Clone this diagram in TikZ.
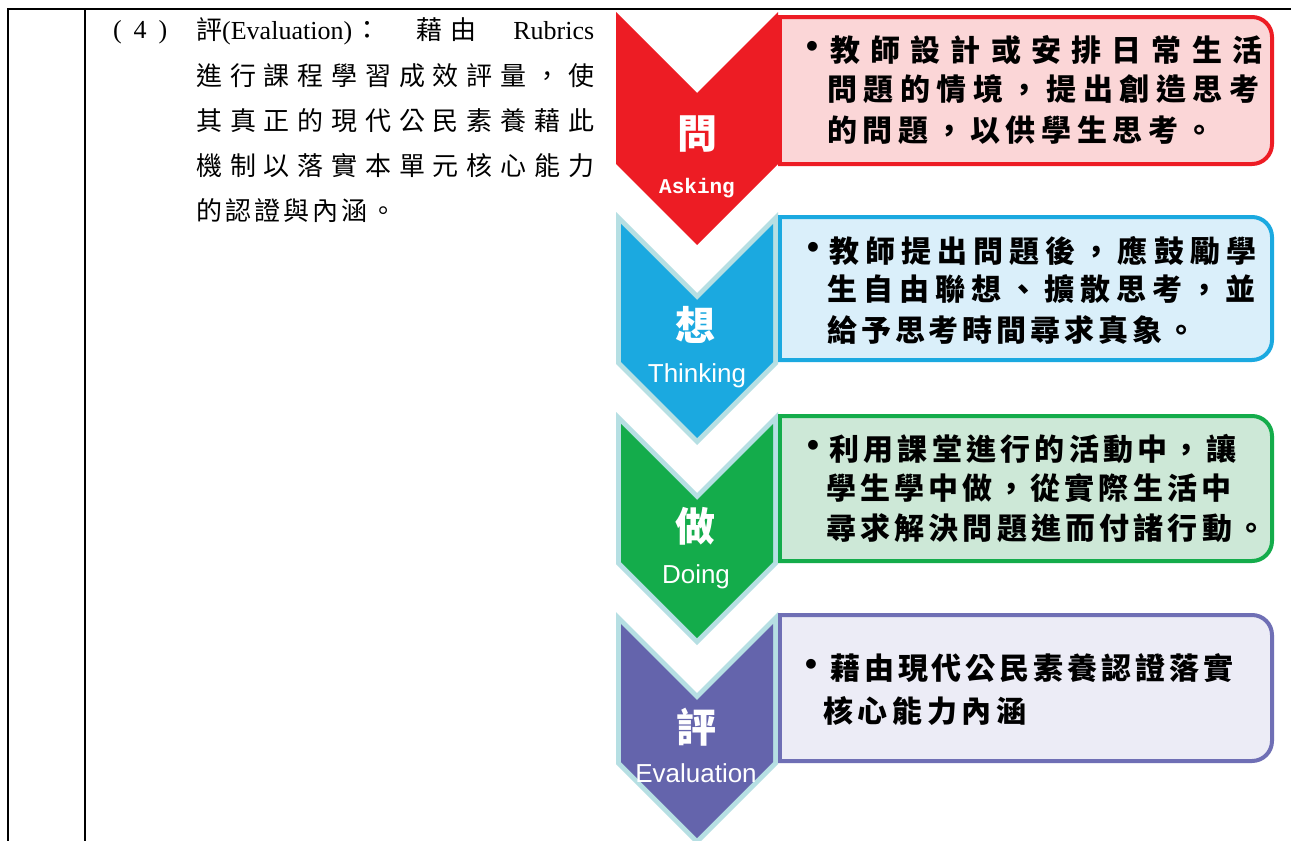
\documentclass[tikz,border=0pt]{standalone}
\usepackage{fontspec}
\setmainfont{Liberation Serif}
\newfontfamily\cjk{Noto Sans CJK TC}
\newfontfamily\sans{Liberation Sans}
\newfontfamily\mono{Liberation Mono}
\makeatletter
\def\spr#1{\spr@a#1\@nil}
\def\spr@a#1{#1\spr@b}
\def\spr@b#1{\ifx#1\@nil\else\hfil#1\expandafter\spr@b\fi}
\makeatother
\newcommand\jl[2]{\makebox[#1pt][s]{\spr{#2}}}
\definecolor{cred}{HTML}{ED1C24}
\definecolor{pinkf}{HTML}{FBD6D7}
\definecolor{cblue}{HTML}{1BA9E0}
\definecolor{bluef}{HTML}{DAEFFA}
\definecolor{cgreen}{HTML}{14AC4B}
\definecolor{greenf}{HTML}{CDE8D7}
\definecolor{cpurp}{HTML}{6464AC}
\definecolor{purpb}{HTML}{6F6FB5}
\definecolor{purpf}{HTML}{ECECF6}
\definecolor{pale}{HTML}{B6DFE3}
\newcommand\chevpale[2]{%
 \fill[pale] (616,#1) -- (697,#1+81) -- (778,#1) -- (778,#1+152) -- (697,#1+233) -- (616,#1+152) -- cycle;
 \fill[#2] (621,#1+12) -- (697,#1+88) -- (773,#1+12) -- (773,#1+150) -- (697,#1+226) -- (621,#1+150) -- cycle;}
\newcommand\tbox[4]{%
 \begin{scope}
 \clip (778,0) rectangle (1291,841);
 \draw[line width=4pt,draw=#3,fill=#4,rounded corners=20pt] (740,#1) rectangle (1272,#2);
 \end{scope}
 \draw[line width=4pt,#3] (780,#1-2) -- (780,#2+2);}
\begin{document}
\begin{tikzpicture}[x=1pt,y=-1pt,
  boxtxt/.style={anchor=west,inner sep=0pt,font=\cjk\bfseries\fontsize{30}{30}\selectfont},
  bul/.style={inner sep=0pt,font=\sans\bfseries\fontsize{34}{34}\selectfont},
  bigch/.style={inner sep=0pt,text=white,font=\cjk\bfseries\fontsize{40}{40}\selectfont},
  engl/.style={anchor=base,inner sep=0pt,text=white,font=\sans\fontsize{26}{26}\selectfont},
  lefttxt/.style={anchor=west,inner sep=0pt,font=\cjk\fontsize{26}{26}\selectfont},
  tline/.style={line width=1.6pt,black}]
\useasboundingbox (0,0) rectangle (1291,841);
\fill[white] (0,0) rectangle (1291,841);
% table rules
\draw[tline] (8,9) -- (1291,9);
\draw[tline] (8,8.2) -- (8,841);
\draw[tline] (85,8.2) -- (85,841);
% left text
\node[anchor=west,inner sep=0pt,font=\rmfamily\fontsize{26}{26}\selectfont] (p4) at (113,32) {\makebox[54pt][s]{(\hfil 4\hfil )}};
\node[lefttxt] (l1) at (196,31) {\makebox[398pt][s]{評{\rmfamily\fontsize{26}{26}\selectfont(Evaluation)}\hskip2pt：\hfil 藉\hskip8pt 由\hfil{\rmfamily\fontsize{26}{26}\selectfont Rubrics}}};
\node[lefttxt] (l2) at (196,76) {\jl{398}{進行課程學習成效評量，使}};
\node[lefttxt] (l3) at (196,121) {\jl{398}{其真正的現代公民素養藉此}};
\node[lefttxt] (l4) at (196,166) {\jl{398}{機制以落實本單元核心能力}};
\node[lefttxt] (l5) at (196,211) {\jl{200}{的認證與內涵。}};
% chevrons
\fill[cred] (616,12) -- (697,93) -- (778,12) -- (778,164) -- (697,245) -- (616,164) -- cycle;
\chevpale{212}{cblue}
\chevpale{412}{cgreen}
\chevpale{612}{cpurp}
% boxes
\tbox{17}{164}{cred}{pinkf}
\tbox{217}{360}{cblue}{bluef}
\tbox{416}{561}{cgreen}{greenf}
\tbox{615}{761}{purpb}{purpf}
% chevron labels
\node[bigch] (q1) at (697,134) {問};
\node[anchor=base,inner sep=0pt,text=white,font=\mono\bfseries\fontsize{21}{21}\selectfont] (e1) at (697,193) {Asking};
\node[bigch] (q2) at (695,325) {想};
\node[engl] (e2) at (697,382) {Thinking};
\node[bigch] (q3) at (695,526) {做};
\node[engl] (e3) at (696,583) {Doing};
\node[bigch] (q4) at (696,727) {評};
\node[engl] (e4) at (696,782) {Evaluation};
% red box text
\node[bul] (rb) at (812,49) {•};
\node[boxtxt] (r1) at (830,50) {\jl{432}{教師設計或安排日常生活}};
\node[boxtxt] (r2) at (827,89) {\jl{432}{問題的情境，提出創造思考}};
\node[boxtxt] (r3) at (827,130) {\jl{387}{的問題，以供學生思考。}};
% blue box text
\node[bul] (bb) at (813,250) {•};
\node[boxtxt] (b1) at (829,251) {\jl{427}{教師提出問題後，應鼓勵學}};
\node[boxtxt] (b2) at (827,289) {\jl{428}{生自由聯想、擴散思考，並}};
\node[boxtxt] (b3) at (827,330) {\jl{369}{給予思考時間尋求真象。}};
% green box text
\node[bul] (gb) at (813,448) {•};
\node[boxtxt] (g1) at (829,449) {\jl{407}{利用課堂進行的活動中，讓}};
\node[boxtxt] (g2) at (826,488) {\jl{405}{學生學中做，從實際生活中}};
\node[boxtxt] (g3) at (826,528) {\jl{440}{尋求解決問題進而付諸行動。}};
% purple box text
\node[bul] (pb) at (811,667) {•};
\node[boxtxt] (v1) at (830,668) {\jl{403}{藉由現代公民素養認證落實}};
\node[boxtxt] (v2) at (823,711) {\jl{203}{核心能力內涵}};
\end{tikzpicture}
\end{document}
